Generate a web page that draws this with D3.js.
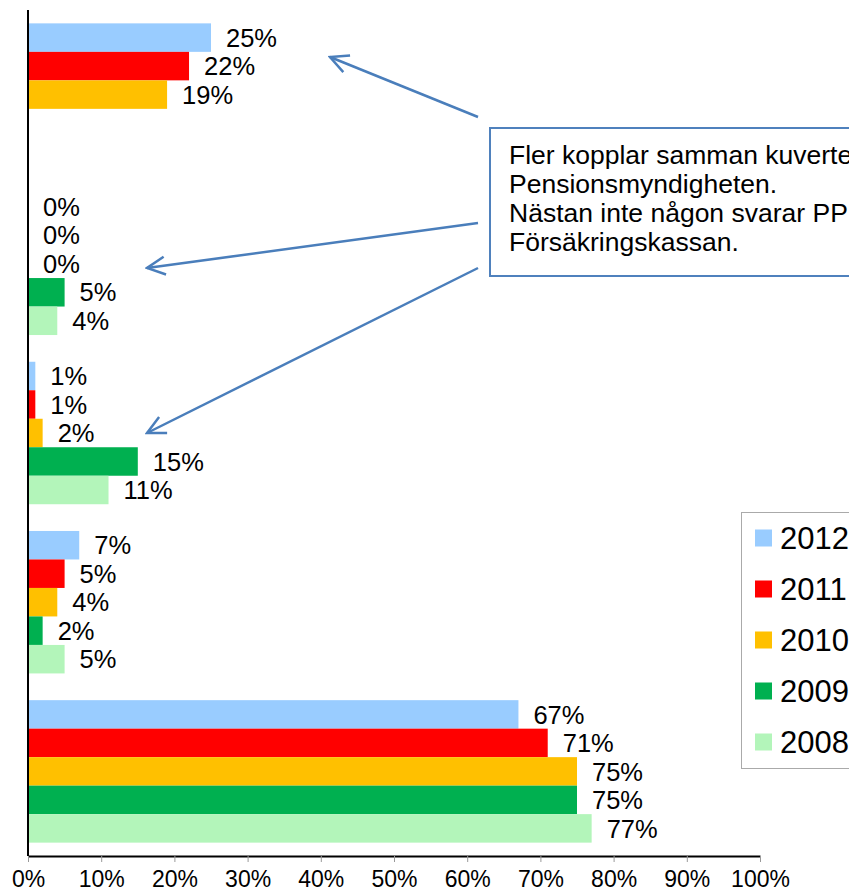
<!DOCTYPE html>
<html>
<head>
<meta charset="utf-8">
<script src="https://cdn.jsdelivr.net/npm/d3@7"></script>
<style>
  body { margin: 0; background: #fff; }
  svg { display: block; font-family: "Liberation Sans", Arial, sans-serif; }
</style>
</head>
<body>
<svg id="chart"></svg>
<script>
// data
const categories = ["Kategori 1", "Kategori 2", "Kategori 3", "Kategori 4", "Kategori 5"];
const years = ["2012", "2011", "2010", "2009", "2008"];
const values2012 = [25, 0, 1, 7, 67];
const values2011 = [22, 0, 1, 5, 71];
const values2010 = [19, 0, 2, 4, 75];
const values2009 = [null, 5, 15, 2, 75];
const values2008 = [null, 4, 11, 5, 77];
const xTicks = [0, 10, 20, 30, 40, 50, 60, 70, 80, 90, 100];
const noteLines = [
    "Fler kopplar samman kuvertet med",
    "Pensionsmyndigheten.",
    "Nästan inte någon svarar PPM eller",
    "Försäkringskassan."
];

const series = [values2012, values2011, values2010, values2009, values2008];
const colors = ["#99ccff", "#ff0000", "#ffc000", "#00b050", "#b3f5ba"];

const W = 849, H = 895;
const margin = { top: 10, right: 89, bottom: 39, left: 28 },
    width = W - margin.left - margin.right,
    height = H - margin.top - margin.bottom;

const svg = d3.select("#chart").attr("width", W).attr("height", H);
const g = svg.append("g")
    .attr("transform", "translate(" + margin.left + "," + margin.top + ")");

const x = d3.scaleLinear().domain([0, 100]).range([0, width]);
const y = d3.scaleBand().domain(categories).range([0, height])
    .paddingInner(0.158).paddingOuter(0.079);
const ySub = d3.scaleBand().domain(years).range([0, y.bandwidth()]);
const color = d3.scaleOrdinal().domain(years).range(colors);

const rows = [];
categories.forEach((c, i) => {
    years.forEach((yr, j) => {
        const v = series[j][i];
        if (v !== null) rows.push({ cat: c, year: yr, value: v });
    });
});

// bars
g.selectAll("rect.bar")
    .data(rows)
    .enter().append("rect")
    .attr("class", "bar")
    .attr("x", 0)
    .attr("y", d => y(d.cat) + ySub(d.year))
    .attr("width", d => x(d.value))
    .attr("height", ySub.bandwidth())
    .attr("fill", d => color(d.year));

// value labels
g.selectAll("text.val")
    .data(rows)
    .enter().append("text")
    .attr("class", "val")
    .attr("x", d => x(d.value) + 15)
    .attr("y", d => y(d.cat) + ySub(d.year) + ySub.bandwidth() / 2)
    .attr("dy", "0.36em")
    .attr("font-size", 25.5)
    .attr("fill", "#000")
    .text(d => d.value + "%");

// x axis
const xAxis = d3.axisBottom(x)
    .tickValues(xTicks)
    .tickFormat(d => d + "%")
    .tickSize(6)
    .tickSizeOuter(0)
    .tickPadding(9);

const ax = g.append("g")
    .attr("transform", "translate(0," + height + ")")
    .call(xAxis);
ax.select(".domain").attr("stroke", "#000").attr("stroke-width", 2);
ax.selectAll(".tick line").attr("stroke", "#999").attr("stroke-width", 1);
ax.selectAll(".tick text").attr("font-size", 23).attr("fill", "#000")
    .attr("font-family", "'Liberation Sans', Arial, sans-serif");

// y axis line
g.append("line")
    .attr("x1", 0).attr("x2", 0)
    .attr("y1", 0).attr("y2", height)
    .attr("stroke", "#000").attr("stroke-width", 2);

// legend
const legend = svg.append("g").attr("transform", "translate(741,512)");
legend.append("rect")
    .attr("x", 0.5).attr("y", 0.5)
    .attr("width", 140).attr("height", 256)
    .attr("fill", "#fff").attr("stroke", "#aaa").attr("stroke-width", 1);
const li = legend.selectAll("g.item")
    .data(years)
    .enter().append("g")
    .attr("class", "item")
    .attr("transform", (d, i) => "translate(0," + (26 + i * 51) + ")");
li.append("rect")
    .attr("x", 14).attr("y", -8.5)
    .attr("width", 17).attr("height", 17)
    .attr("fill", d => color(d));
li.append("text")
    .attr("x", 39).attr("dy", "0.36em")
    .attr("font-size", 31)
    .text(d => d);

// annotation box
const note = svg.append("g");
note.append("rect")
    .attr("x", 490).attr("y", 128)
    .attr("width", 400).attr("height", 148)
    .attr("fill", "#fff").attr("stroke", "#4f81bd").attr("stroke-width", 2);
note.selectAll("text")
    .data(noteLines)
    .enter().append("text")
    .attr("x", 509)
    .attr("y", (d, i) => 164 + i * 29)
    .attr("font-size", 26.5)
    .text(d => d);

// arrows
svg.append("defs").append("marker")
    .attr("id", "arr")
    .attr("viewBox", "0 0 20 20")
    .attr("refX", 18).attr("refY", 10)
    .attr("markerWidth", 9).attr("markerHeight", 9)
    .attr("markerUnits", "strokeWidth")
    .attr("orient", "auto")
    .append("path")
    .attr("d", "M2,2 L18,10 L2,18")
    .attr("fill", "none")
    .attr("stroke", "#4a7ebb")
    .attr("stroke-width", 2.2);

const arrows = [
    [478, 117, 330, 57],
    [478, 223, 147, 268],
    [478, 268, 147, 433]
];
svg.selectAll("line.arrow")
    .data(arrows)
    .enter().append("line")
    .attr("class", "arrow")
    .attr("x1", d => d[0]).attr("y1", d => d[1])
    .attr("x2", d => d[2]).attr("y2", d => d[3])
    .attr("stroke", "#4a7ebb")
    .attr("stroke-width", 2.5)
    .attr("marker-end", "url(#arr)");
</script>
</body>
</html>
